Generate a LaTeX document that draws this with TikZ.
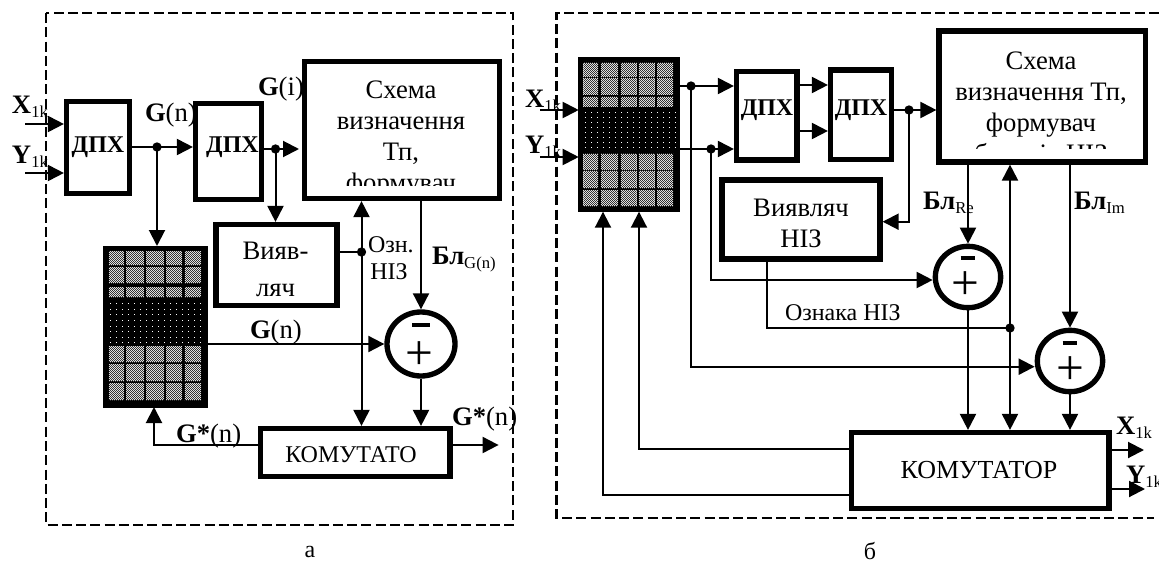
\documentclass[tikz,border=0pt]{standalone}
\usepackage{fontspec}
\setmainfont{Liberation Serif}
\usetikzlibrary{arrows.meta,shapes.geometric,calc,patterns}
\pgfdeclarepatternformonly{chk}{\pgfqpoint{-.1pt}{-.1pt}}{\pgfqpoint{1.6pt}{1.6pt}}{\pgfqpoint{1.5pt}{1.5pt}}{%
  \pgfpathrectangle{\pgfpointorigin}{\pgfqpoint{.75pt}{.75pt}}\pgfusepath{fill}%
  \pgfpathrectangle{\pgfqpoint{.75pt}{.75pt}}{\pgfqpoint{.75pt}{.75pt}}\pgfusepath{fill}}
\newcommand\lowt[1]{\raisebox{-3pt}{\fontsize{12.5}{12.5}\selectfont #1}}
\newcommand\blk[6]{\node[blockst,minimum width={(#4-#2)*.75pt},minimum height={(#5-#3)*.75pt}] (#1) at ({(#2+#4)/2},{(#3+#5)/2}) {#6};}
\newcommand\memgrid[5]{%
  \node[gridst,minimum width={(#4-#2)*.75pt},minimum height={(#5-#3)*.75pt}] (#1) at ({(#2+#4)/2},{(#3+#5)/2}) {};}
\tikzset{
  blockst/.style={draw,fill=white,line width=3.9pt,inner sep=0pt},
  gridst/.style={draw=black,fill=black,line width=0pt,inner sep=0pt,outer sep=0pt},
  txt/.style={inner sep=0pt,outer sep=0pt,font=\fontsize{20}{23.25}\selectfont,align=center},
  sm/.style={txt,font=\fontsize{18}{21}\selectfont},
  bld/.style={txt,font=\fontsize{18}{21}\selectfont\bfseries},
  ln/.style={line width=1.5pt},
  ar/.style={ln,-{Triangle[length=12pt,width=12pt]}},
  arr/.style={ln,{Triangle[length=12pt,width=12pt]}-{Triangle[length=12pt,width=12pt]}},
  dotn/.style={circle,fill=black,inner sep=0pt,outer sep=0pt,minimum size=7pt},
  sumst/.style={ellipse,draw,fill=white,line width=4pt,inner sep=0pt},
  dashb/.style={line width=1.9pt,dash pattern=on 7.5pt off 3.2pt},
  cellf/.style={fill=black!12},
  cellp/.style={pattern=chk,pattern color=black!80},
}
\newcommand\cellsrow[3]{%
  \foreach \a/\b in {#3}{\fill[cellf] (\a,#1) rectangle (\b,#2);\fill[cellp] (\a,#1) rectangle (\b,#2);}}
\begin{document}
\begin{tikzpicture}[x=.75pt,y=-.75pt]
\useasboundingbox (0,0) rectangle (1159,563);
% ---------- panel a ----------
\draw[dashb] (46,13) rectangle (513,525);
\blk{dpxa}{66.5}{101.5}{129.5}{193.5}{}
\blk{dpxb}{195.5}{103.5}{261.5}{199.5}{}
\blk{schA}{304.5}{61.5}{499.5}{198.5}{}
\blk{detA}{216}{224.5}{337}{305.5}{}
\blk{komA}{260.5}{428.5}{450}{476.5}{}
\memgrid{memA}{103}{246}{207}{407}
\foreach \y/\z in {251/265,267/283,287/297,346/362,364/381,383/400}{
  \cellsrow{\y}{\z}{108.8/124,126/144,146/164,166/182,184.6/201}}
\foreach \yy in {303,309,314,320,326,331,337,342}{\foreach \xx in {110,116,...,200}{\fill[white] (\xx,\yy) rectangle ++(1.3,1.3);}}
\node[sumst,minimum width=51pt,minimum height=48pt] (sumA) at (421,344) {};
\node[inner sep=0pt] (minA) at (421,325) {\rule{13pt}{3.6pt}};
\node[inner sep=0pt,font=\fontsize{37}{37}\selectfont] (plA) at (419,356) {+};
\coordinate (inXa) at (25,124);
\coordinate (inYa) at (25,173);
\coordinate (outGa) at (498.6,445);
\node[dotn] (ja) at (157,147) {};
\node[dotn] (jb) at (275.5,149) {};
\node[dotn] (jc) at (361.5,252) {};
\coordinate (tipb) at (299,149);
\coordinate (fbA) at (154,445);
\draw[ar] (inXa) -- (dpxa.west |- inXa);
\draw[ar] (inYa) -- (dpxa.west |- inYa);
\draw[ar] (dpxa.east |- ja) -- (dpxb.west |- ja);
\draw[ar] (ja.center) -- (ja.center |- memA.north);
\draw[ar] (dpxb.east |- jb) -- (tipb);
\draw[ar] (jb.center) -- (jb.center |- detA.north);
\draw[arr] (schA.south -| jc) -- (komA.north -| jc);
\draw[ln] (detA.east |- jc) -- (jc.center);
\draw[ar] (sumA.north |- schA.south) -- (sumA.north);
\draw[ar] (memA.east |- sumA) -- (sumA.west);
\draw[ar] (sumA.south) -- (sumA.south |- komA.north);
\draw[ar] (komA.west |- fbA) -- (fbA) -- (fbA |- memA.south);
\draw[ar] (komA.east |- outGa) -- (outGa);
\node[txt,anchor=west] (tXa) at (12,107) {\textbf{X}\lowt{1k}};
\node[txt,anchor=west] (tYa) at (12,157) {\textbf{Y}\lowt{1k}};
\node[bld] (tda) at (98,147) {ДПХ};
\node[bld] (tdb) at (232.5,147) {ДПХ};
\node[txt,anchor=west] (tGn) at (145,115) {\textbf{G}(n)};
\node[txt,anchor=west] (tGi) at (258,89) {\textbf{G}(i)};
\begin{scope}
\clip (304,62) rectangle (500,185.5);
\node[txt,anchor=north] (tSa) at (401,81) {Схема\\визначення\\Тп,\\формувач};
\end{scope}
\node[txt] (tVa) at (275.5,269.5) {Вияв-\\[4.5pt]ляч};
\begin{scope}
\clip (360,230) rectangle (411,290);
\node[sm,anchor=west] (tOz) at (368,245) {Озн.};
\end{scope}
\node[sm] (tNz) at (389,272) {НІЗ};
\node[txt,anchor=west] (tBG) at (432,260) {\textbf{Бл}\lowt{G(n)}};
\node[txt,anchor=west] (tGc) at (250,332) {\textbf{G}(n)};
\node[txt,anchor=west] (tGs) at (176,436) {\textbf{G*}(n)};
\node[txt,anchor=west] (tGo) at (452,419) {\textbf{G*}(n)};
\node[sm] (tKa) at (351,455) {КОМУТАТО};
\node[sm] (capA) at (310,552) {а};
% ---------- panel b ----------
\draw[dashb] (1159,13) -- (556.6,13) -- (556.6,518) -- (1154,518);
\blk{dpxc}{736.5}{71.5}{797}{160}{}
\blk{dpxd}{830.5}{70}{891.5}{159.5}{}
\blk{schB}{939}{31}{1145.5}{162}{}
\blk{detB}{722}{180}{880}{259}{}
\blk{komB}{851.5}{432.5}{1109}{508.5}{}
\memgrid{memB}{578.7}{57.3}{679}{211.7}
\foreach \y/\z in {63/77,78/95,97/107,154/170,171/188,190/206}{
  \cellsrow{\y}{\z}{583.4/598.4,600.8/618,620.5/636.7,638.7/654.5,657/673.4}}
\foreach \yy in {112,117,122,127,132,137,142,147}{\foreach \xx in {585,591,...,675}{\fill[white] (\xx,\yy) rectangle ++(1.3,1.3);}}
\node[sumst,minimum width=49pt,minimum height=46pt] (sumB) at (968,277) {};
\node[inner sep=0pt] (minB) at (968,258) {\rule{11pt}{3.6pt}};
\node[inner sep=0pt,font=\fontsize{37}{37}\selectfont] (plB) at (965,286) {+};
\node[sumst,minimum width=49pt,minimum height=46pt] (sumC) at (1070,361) {};
\node[inner sep=0pt] (minC) at (1070,343) {\rule{11pt}{3.6pt}};
\node[inner sep=0pt,font=\fontsize{37}{37}\selectfont] (plC) at (1070,371) {+};
\coordinate (inXb) at (540,110);
\coordinate (inYb) at (540,157);
\node[dotn] (jd) at (691,86) {};
\node[dotn] (je) at (711,149) {};
\node[dotn] (jf) at (909,110) {};
\node[dotn] (jg) at (1010,328) {};
\coordinate (lpA) at (909,221.7);
\coordinate (toB) at (711,280);
\coordinate (toC) at (691,366.7);
\coordinate (ozA) at (767,328);
\coordinate (fbB) at (639,449);
\coordinate (fbC) at (603,495);
\coordinate (outX) at (1144,450);
\coordinate (outY) at (1145,489);
\coordinate (mida) at (799,85);
\coordinate (midb) at (799,131);
\draw[ar] (inXb) -- (memB.west |- inXb);
\draw[ar] (inYb) -- (memB.west |- inYb);
\draw[ar] (memB.east |- jd) -- (dpxc.west |- jd);
\draw[ar] (memB.east |- je) -- (dpxc.west |- je);
\draw[ar] (dpxc.east |- mida) -- (dpxd.west |- mida);
\draw[ar] (dpxc.east |- midb) -- (dpxd.west |- midb);
\draw[ar] (dpxd.east |- jf) -- (schB.west |- jf);
\draw[ar] (jf.center) -- (lpA) -- (detB.east |- lpA);
\draw[ar] (sumB.north |- schB.south) -- (sumB.north);
\draw[ar] (sumC.north |- schB.south) -- (sumC.north);
\draw[arr] (schB.south -| jg) -- (komB.north -| jg);
\draw[ln] (ozA |- detB.south) -- (ozA) -- (jg.center);
\draw[ar] (je.center) -- (toB) -- (toB -| sumB.west);
\draw[ar] (jd.center) -- (toC) -- (toC -| sumC.west);
\draw[ar] (sumB.south) -- (sumB.south |- komB.north);
\draw[ar] (sumC.south) -- (sumC.south |- komB.north);
\draw[ar] (komB.west |- fbB) -- (fbB) -- (fbB |- memB.south);
\draw[ar] (komB.west |- fbC) -- (fbC) -- (fbC |- memB.south);
\draw[ar] (komB.east |- outX) -- (outX);
\draw[ar] (komB.east |- outY) -- (outY);
\node[txt,anchor=west] (tXb) at (525,101) {\textbf{X}\lowt{1k}};
\node[txt,anchor=west] (tYb) at (525,147) {\textbf{Y}\lowt{1k}};
\node[bld] (tdc) at (767,110) {ДПХ};
\node[bld] (tdd) at (861,110) {ДПХ};
\begin{scope}
\clip (940,32) rectangle (1145,149);
\node[txt,anchor=north] (tSb) at (1041,51.5) {Схема\\визначення Тп,\\формувач\\бланків НІЗ};
\end{scope}
\node[txt] (tVb) at (801,223) {Виявляч\\НІЗ};
\node[txt,anchor=west] (tBr) at (923,203) {\textbf{Бл}\lowt{Re}};
\node[txt,anchor=west] (tBi) at (1074,203) {\textbf{Бл}\lowt{Im}};
\node[sm,anchor=west] (tOzn) at (785,313) {Ознака НІЗ};
\node[txt,font=\fontsize{19.5}{21}\selectfont] (tKb) at (979,470) {КОМУТАТОР};
\node[txt,anchor=west] (tXo) at (1116,428) {\textbf{X}\lowt{1k}};
\node[txt,anchor=west] (tYo) at (1126,477) {\textbf{Y}\lowt{1k}};
\node[sm] (capB) at (870,551) {б};
\end{tikzpicture}
\end{document}
